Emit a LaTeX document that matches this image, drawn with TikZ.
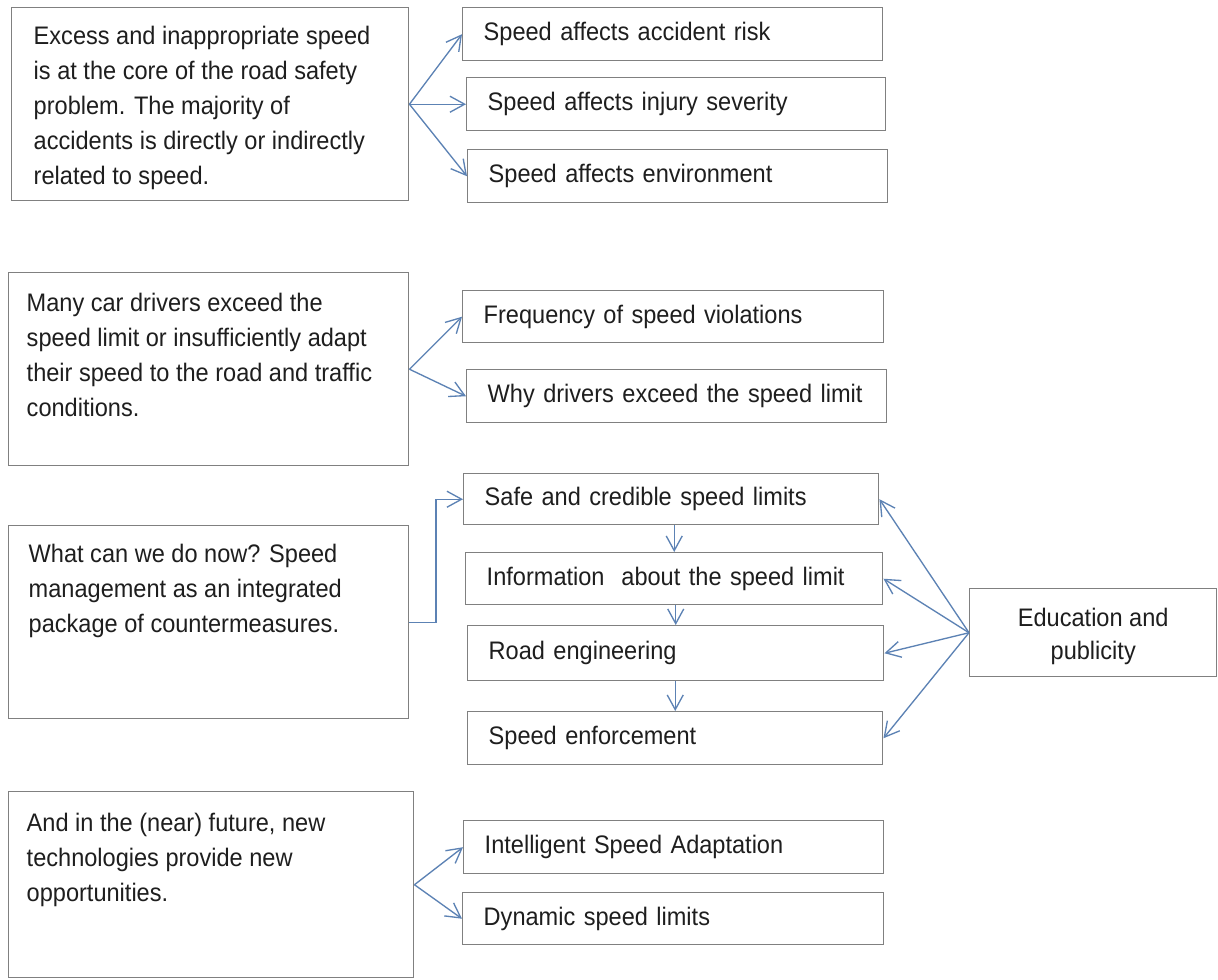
\documentclass[tikz,border=0pt]{standalone}
\usepackage{fontspec}
\setmainfont[FakeStretch=0.93]{Liberation Sans}
\usetikzlibrary{arrows.meta,calc}
\definecolor{boxgray}{RGB}{128,128,128}
\definecolor{arrblue}{RGB}{92,130,180}
\definecolor{txt}{RGB}{30,30,30}
\begin{document}
\begin{tikzpicture}[x=0.75pt,y=-0.75pt,
  box/.style={draw=boxgray, line width=1.1pt, fill=white, inner sep=0pt, anchor=north west,
              text=txt, font=\fontsize{19pt}{26.25pt}\selectfont},
  rbox/.style={box, align=left},
  ebox/.style={box, align=center, font=\fontsize{19pt}{24.75pt}\selectfont},
  conn/.style={draw=arrblue, line width=1pt, -{Straight Barb[length=11pt,width=12pt]}},
]
\fill[white] (0,0) rectangle (1218,980);
\useasboundingbox (0,0) rectangle (1218,980);

% ---- group 1
\node[box] (b1) at (11,7) {\parbox[c][144.75pt][t]{297.75pt}{\raggedright\leftskip=16.5pt
  \rule{0pt}{27.4pt}Excess and inappropriate speed\\
  is at the core of the road safety\\
  problem. The majority of\\
  accidents is directly or indirectly\\
  related to speed.}};
\node[rbox, minimum width=315pt, minimum height=39.75pt, text width=283.5pt] (sar) at (462,7) {Speed affects accident risk};
\node[rbox, minimum width=314.25pt, minimum height=39.75pt, text width=282.75pt] (inj) at (466,77) {Speed affects injury severity};
\node[rbox, minimum width=315pt, minimum height=39.75pt, text width=283.5pt] (env) at (467,149) {Speed affects environment};

% ---- group 2
\node[box] (b2) at (8,272) {\parbox[c][144.75pt][t]{300pt}{\raggedright\leftskip=13.5pt
  \rule{0pt}{28.9pt}Many car drivers exceed the\\
  speed limit or insufficiently adapt\\
  their speed to the road and traffic\\
  conditions.}};
\node[rbox, minimum width=315.75pt, minimum height=39pt, text width=284.25pt] (freq) at (462,290) {Frequency of speed violations};
\node[rbox, minimum width=315pt, minimum height=39.75pt, text width=283.5pt] (why) at (466,369) {Why drivers exceed the speed limit};

% ---- group 3
\node[box] (b3) at (8,525) {\parbox[c][144.75pt][t]{300pt}{\raggedright\leftskip=15pt
  \rule{0pt}{27.4pt}What can we do now? Speed\\
  management as an integrated\\
  package of countermeasures.}};
\node[rbox, minimum width=311.25pt, minimum height=38.25pt, text width=279.75pt] (safe) at (463,473) {Safe and credible speed limits};
\node[rbox, minimum width=312.75pt, minimum height=39pt, text width=281.25pt] (info) at (465,552) {Information\ \ about the speed limit};
\node[rbox, minimum width=312pt, minimum height=41.25pt, text width=280.5pt] (road) at (467,625) {Road engineering};
\node[rbox, minimum width=311.25pt, minimum height=39.75pt, text width=279.75pt] (enf) at (467,711) {Speed enforcement};
\node[ebox, minimum width=185.25pt, minimum height=66pt] (edu) at (969,588) {\rule{0pt}{20pt}Education and\\publicity};

% ---- group 4
\node[box] (b4) at (8,791) {\parbox[c][139.5pt][t]{303.75pt}{\raggedright\leftskip=13.5pt
  \rule{0pt}{29.6pt}And in the (near) future, new\\
  technologies provide new\\
  opportunities.}};
\node[rbox, minimum width=315pt, minimum height=39.75pt, text width=283.5pt] (isa) at (463,820) {Intelligent Speed Adaptation};
\node[rbox, minimum width=315.75pt, minimum height=39pt, text width=284.25pt] (dyn) at (462,892) {Dynamic speed limits};

% ---- connectors
\draw[conn] (b1.east) -- (sar.west);
\draw[conn] (b1.east) -- (inj.west);
\draw[conn] (b1.east) -- (env.west);

\draw[conn] (b2.east) -- (freq.west);
\draw[conn] (b2.east) -- (why.west);

\coordinate (bend) at (436,622);
\draw[conn] (b3.east) -- (b3.east -| bend) |- (safe.west);
\draw[conn] (safe.south -| info.north) -- (info.north);
\draw[conn] (info.south -| road.north) -- (road.north);
\draw[conn] (road.south -| enf.north) -- (enf.north);

\draw[conn] (edu.west) -- (safe.east);
\draw[conn] (edu.west) -- (info.east);
\draw[conn] (edu.west) -- (road.east);
\draw[conn] (edu.west) -- (enf.east);

\draw[conn] (b4.east) -- (isa.west);
\draw[conn] (b4.east) -- (dyn.west);
\end{tikzpicture}
\end{document}
